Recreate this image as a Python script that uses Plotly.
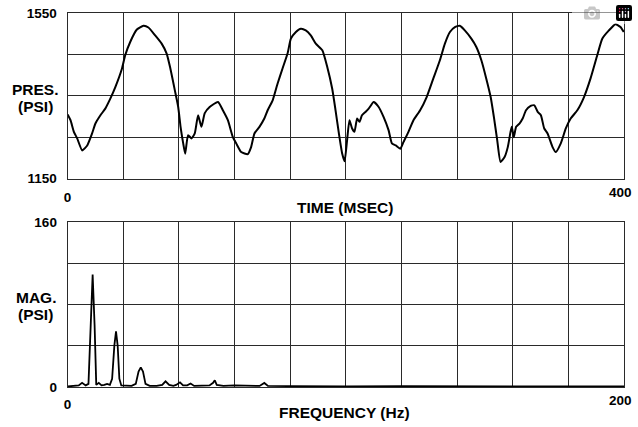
import plotly.graph_objects as go

# ---- Data ----
time_ms = [0, 2.1, 4.5, 6.9, 10.5, 14.1, 17.6, 20, 23.6, 27.1, 30.7, 34.3, 39.1, 41.4, 45, 49.8,
           54.5, 58.1, 62.9, 67.6, 71.2, 73.6, 77.1, 79.5, 81.2, 83.1, 84.5, 86.6, 89.1, 91.4,
           93.8, 96.2, 98.6, 102.1, 108.1, 111.6, 115.2, 118.8, 121.2, 124.8, 129.5, 131.9,
           134.3, 137.9, 141.4, 143.8, 147.4, 150.9, 154.5, 158.1, 160.5, 164.1, 167.6, 171.2,
           174.8, 178.4, 183.1, 186.6, 190.2, 192.6, 195, 197.4, 199.1, 200.9, 202.6, 204.5,
           206.2, 208.1, 209.8, 211.6, 214.1, 216.4, 220, 223.6, 227.1, 230.7, 233.1, 235.9,
           239.1, 241.4, 245, 248.6, 253.4, 258.1, 262.9, 267.6, 271.2, 274.8, 278.4, 281.9,
           285.5, 290.2, 293.8, 297.4, 300.9, 304.1, 306.4, 308.8, 311.2, 314.1, 316.4, 318.4,
           319.3, 320.7, 322.4, 324.8, 327.1, 329.5, 332.6, 335.5, 337.9, 340.2, 342.6, 345,
           348.6, 350.9, 354.5, 358.1, 361.6, 366.4, 371.2, 375.9, 380.7, 384.3, 389.1, 393.8,
           397.4, 399.8]
pressure_psi = [1305, 1291, 1263, 1247, 1218, 1230, 1259, 1283, 1303, 1319, 1343, 1371, 1416, 1448,
                1480, 1510, 1519, 1515, 1496, 1476, 1452, 1420, 1363, 1323, 1275, 1235, 1210,
                1255, 1247, 1259, 1303, 1275, 1308, 1323, 1335, 1315, 1291, 1250, 1235, 1214,
                1209, 1226, 1259, 1275, 1295, 1315, 1339, 1379, 1416, 1452, 1488, 1504, 1512,
                1508, 1496, 1476, 1460, 1420, 1367, 1315, 1259, 1210, 1192, 1243, 1291, 1271,
                1263, 1295, 1287, 1303, 1311, 1319, 1335, 1323, 1299, 1267, 1235, 1230, 1222,
                1238, 1263, 1291, 1315, 1347, 1392, 1436, 1476, 1504, 1516, 1519, 1508, 1488,
                1468, 1436, 1392, 1347, 1299, 1243, 1190, 1202, 1226, 1263, 1275, 1250, 1275,
                1283, 1295, 1315, 1325, 1327, 1311, 1303, 1271, 1259, 1226, 1214, 1235, 1271,
                1295, 1315, 1347, 1392, 1448, 1488, 1508, 1523, 1516, 1504]

freq_hz = [0, 2, 4, 5.2, 6.5, 7.5, 8.3, 9.0, 9.7, 10.3, 11.2, 12.2, 13.2, 14.2, 15.2, 16, 16.8,
           17.4, 18, 18.6, 19.3, 21, 23, 24.5, 25.5, 26.3, 27.1, 28, 29.5, 32, 34, 35.2, 36.5,
           38, 39, 40.4, 41.5, 43, 44.2, 45.5, 48, 51, 52.3, 52.9, 53.6, 56, 60, 65, 69, 70.7,
           72, 80, 90, 100, 120, 140, 160, 180, 200]
magnitude_psi = [0.5, 1, 1.5, 4, 1.5, 3, 60, 109, 60, 2, 4, 1.5, 2, 3, 2, 8, 40, 54, 40, 8, 1.5,
                 1, 1, 3, 15, 19, 15, 3, 1, 1, 2, 5.5, 2, 1, 2, 4.5, 1.5, 1.5, 3.3, 1, 1, 1.5, 4,
                 6.5, 2, 1, 1.5, 1, 1, 3.9, 1, 0.8, 1, 0.6, 0.7, 0.5, 0.6, 0.5, 0.5]

top_x_ticks = [0, 40, 80, 120, 160, 200, 240, 280, 320, 360, 400]
top_x_text = ["0", "", "", "", "", "", "", "", "", "", "400"]
top_y_ticks = [1150, 1250, 1350, 1450, 1550]
top_y_text = ["1150", "", "", "", "1550"]
bot_x_ticks = [0, 20, 40, 60, 80, 100, 120, 140, 160, 180, 200]
bot_x_text = ["0", "", "", "", "", "", "", "", "", "", "200"]
bot_y_ticks = [0, 40, 80, 120, 160]
bot_y_text = ["0", "", "", "", "160"]

W, H = 638, 427
FONT = "Liberation Sans, Arial, sans-serif"
GRID = "#2a2a2a"

# map target screen pixels to figure paper fractions (calibrated for the viewer)
def px(x):
    return (x - 3) / W

def py(y):
    return 1 - ((y - 6.7) / 0.965) / H

fig = go.Figure()
fig.add_trace(go.Scatter(x=time_ms, y=pressure_psi, mode="lines",
                         line=dict(color="black", width=2, shape="spline", smoothing=0.5),
                         xaxis="x", yaxis="y", showlegend=False, hoverinfo="skip"))
fig.add_trace(go.Scatter(x=freq_hz, y=magnitude_psi, mode="lines",
                         line=dict(color="black", width=1.8),
                         xaxis="x2", yaxis="y2", showlegend=False, hoverinfo="skip"))

TICKFONT = dict(family=FONT, size=13.5, color="black", weight="bold")
axis_common = dict(showgrid=True, gridcolor=GRID, gridwidth=1, zeroline=False,
                   showline=True, linecolor=GRID, linewidth=1, mirror=True,
                   tickmode="array", ticks="", fixedrange=True, tickfont=TICKFONT)

def blank_last(lst):
    return lst[:-1] + [""]

fig.update_layout(
    width=W, height=H,
    margin=dict(l=0, r=0, t=0, b=0),
    paper_bgcolor="white", plot_bgcolor="white",
    xaxis=dict(domain=[px(67), px(627)], range=[0, 400], anchor="y",
               tickvals=top_x_ticks, ticktext=blank_last(top_x_text), ticklabelstandoff=6,
               **axis_common),
    yaxis=dict(domain=[py(178.3), py(12.7)], range=[1150, 1550], anchor="x",
               tickvals=top_y_ticks, ticktext=top_y_text, ticklabelstandoff=7, **axis_common),
    xaxis2=dict(domain=[px(67), px(627)], range=[0, 200], anchor="y2",
                tickvals=bot_x_ticks, ticktext=blank_last(bot_x_text), ticklabelstandoff=5,
                **axis_common),
    yaxis2=dict(domain=[py(386.7), py(221.7)], range=[0, 160], anchor="x2",
                tickvals=bot_y_ticks, ticktext=bot_y_text, ticklabelstandoff=7, **axis_common),
)

# right-end x tick labels (kept inside the figure)
fig.add_annotation(text=top_x_text[-1], xref="x", x=top_x_ticks[-1], yref="paper", y=py(192),
                   xanchor="right", yanchor="middle", showarrow=False, xshift=10, font=TICKFONT)
fig.add_annotation(text=bot_x_text[-1], xref="x2", x=bot_x_ticks[-1], yref="paper", y=py(400),
                   xanchor="right", yanchor="middle", showarrow=False, xshift=10, font=TICKFONT)

def label(text, x, y, size=15.5):
    fig.add_annotation(text=text, xref="paper", yref="paper", x=px(x), y=py(y),
                       xanchor="center", yanchor="middle", showarrow=False,
                       font=dict(family=FONT, size=size, color="black", weight="bold"))

label("TIME (MSEC)", 346, 207)
label("FREQUENCY (Hz)", 346, 412)
label("PRES.", 35, 89, 15.5)
label("(PSI)", 35, 106, 15.5)
label("MAG.", 35, 297, 15.5)
label("(PSI)", 35, 314, 15.5)

fig.write_html("out.html",
               post_script="document.body.style.margin='0';document.body.style.overflow='hidden';")
